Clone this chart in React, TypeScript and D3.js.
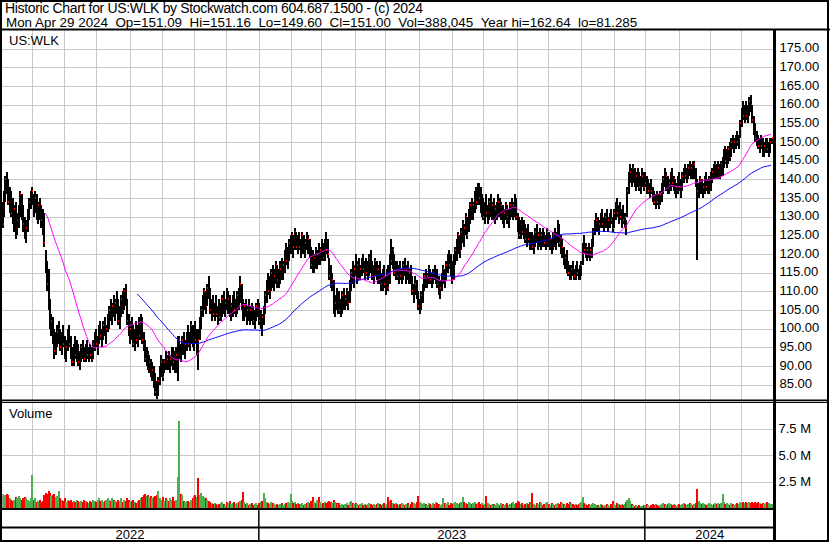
import * as d3 from "d3";

// daily bars, May 4 2022 .. Apr 29 2024 (weekdays)
const highs = [
  134, 137, 141, 142, 140, 138, 137, 135, 133, 134,
  131, 133, 137, 136, 133, 130, 129, 132, 135, 137,
  138, 136, 137, 136, 134, 135, 133, 132, 131, 121,
  118, 116, 108, 104, 103, 100, 99, 101, 102, 100,
  99, 101, 98, 97, 100, 101, 98, 95, 96, 98,
  97, 96, 94, 96, 97, 95, 96, 97, 95, 96,
  95, 97, 99, 100, 98, 101, 102, 100, 102, 103,
  101, 104, 106, 108, 107, 109, 108, 110, 108, 106,
  109, 110, 111, 112, 108, 104, 102, 103, 101, 100,
  102, 101, 103, 104, 103, 99, 97, 95, 94, 93,
  92, 91, 90, 88, 86, 87, 90, 93, 92, 92,
  94, 93, 94, 93, 95, 95, 94, 95, 98, 98,
  96, 98, 99, 97, 99, 101, 99, 102, 101, 100,
  102, 100, 100, 103, 106, 109, 111, 110, 112, 114,
  111, 108, 109, 107, 109, 106, 108, 107, 109, 110,
  108, 111, 110, 109, 107, 109, 110, 108, 110, 111,
  114, 112, 108, 107, 108, 106, 108, 106, 107, 106,
  105, 107, 108, 107, 105, 104, 106, 110, 113, 115,
  114, 116, 117, 116, 118, 117, 116, 118, 119, 118,
  121, 123, 122, 124, 125, 126, 125, 127, 126, 125,
  126, 124, 126, 125, 124, 126, 125, 124, 122, 121,
  120, 122, 121, 123, 122, 124, 123, 124, 126, 124,
  119, 117, 115, 113, 109, 111, 109, 110, 108, 110,
  111, 109, 111, 110, 113, 116, 118, 117, 120, 118,
  119, 117, 119, 120, 118, 119, 118, 120, 121, 118,
  117, 119, 118, 117, 118, 115, 116, 117, 114, 116,
  117, 120, 124, 122, 120, 118, 118, 117, 118, 116,
  118, 119, 117, 118, 116, 117, 114, 112, 114, 113,
  110, 108, 110, 112, 115, 116, 115, 117, 116, 115,
  116, 117, 116, 116, 114, 113, 115, 117, 116, 118,
  120, 121, 120, 118, 120, 122, 124, 126, 125, 127,
  129, 128, 131, 130, 132, 134, 135, 134, 137, 138,
  139, 139, 138, 136, 135, 134, 136, 133, 135, 136,
  134, 135, 133, 134, 136, 135, 134, 133, 132, 134,
  133, 132, 134, 135, 134, 136, 135, 131, 130, 129,
  130, 129, 128, 127, 128, 126, 125, 126, 125, 127,
  128, 126, 127, 126, 127, 126, 125, 127, 126, 125,
  124, 126, 127, 126, 129, 128, 125, 124, 122, 120,
  121, 118, 117, 117, 118, 116, 117, 118, 116, 117,
  118, 123, 125, 123, 122, 123, 122, 124, 127, 129,
  131, 130, 129, 131, 132, 130, 131, 132, 130, 131,
  132, 130, 132, 134, 135, 133, 134, 132, 133, 131,
  129, 138, 142, 144, 143, 144, 143, 142, 143, 142,
  141, 143, 142, 142, 141, 140, 139, 140, 138, 137,
  136, 137, 136, 137, 139, 141, 143, 142, 141, 140,
  142, 143, 141, 140, 139, 141, 142, 140, 142, 143,
  144, 143, 144, 145, 144, 145, 145, 143, 140, 139,
  141, 140, 139, 141, 142, 140, 141, 142, 143, 144,
  145, 144, 145, 144, 145, 146, 148, 149, 148, 149,
  150, 151, 152, 151, 152, 153, 152, 156, 159, 161,
  160, 161, 160, 162, 162.64, 160, 157, 155, 153, 152,
  151, 152, 151, 150, 151, 151, 150, 151, 151.16,
];

const lows = [
  127, 130, 134, 136, 133, 131, 130, 128, 126, 124,
  125, 127, 130, 129, 126, 124, 123, 126, 129, 132,
  133, 130, 131, 129, 128, 129, 127, 125, 122, 115,
  110, 105, 100, 98, 96, 92, 93, 95, 96, 94,
  93, 95, 92, 91, 94, 95, 92, 90, 90, 92,
  91, 90, 89, 91, 92, 91, 91, 92, 91, 92,
  91, 92, 94, 95, 93, 96, 97, 95, 97, 98,
  96, 99, 100, 102, 101, 103, 102, 104, 101, 100,
  103, 104, 105, 106, 101, 98, 96, 97, 95, 94,
  96, 95, 97, 97, 96, 94, 91, 90, 89, 88,
  87, 86, 84, 82, 81.3, 82, 85, 87, 86, 88,
  89, 89, 89, 88, 90, 89, 88, 88, 86, 92,
  91, 93, 93, 92, 94, 95, 94, 96, 95, 94,
  96, 93, 89, 97, 100, 103, 105, 104, 106, 108,
  104, 102, 103, 102, 103, 101, 102, 102, 103, 104,
  103, 105, 104, 103, 102, 103, 104, 103, 104, 105,
  107, 105, 102, 102, 103, 101, 102, 101, 102, 101,
  100, 102, 103, 101, 100, 98, 101, 104, 107, 109,
  108, 110, 111, 110, 112, 111, 111, 112, 113, 113,
  115, 117, 116, 118, 120, 120, 119, 121, 121, 120,
  121, 119, 120, 120, 119, 121, 120, 119, 116, 115,
  115, 116, 116, 117, 117, 118, 118, 118, 120, 119,
  113, 111, 110, 104, 103, 105, 104, 104, 103, 104,
  105, 105, 106, 105, 107, 110, 112, 111, 114, 112,
  113, 113, 114, 115, 113, 114, 113, 114, 115, 113,
  112, 114, 113, 112, 112, 110, 110, 111, 109, 111,
  110, 112, 117, 116, 114, 113, 113, 112, 113, 112,
  113, 114, 112, 113, 112, 112, 109, 107, 109, 108,
  105, 104, 105, 107, 110, 111, 111, 112, 112, 111,
  112, 113, 112, 111, 109, 108, 110, 112, 111, 113,
  115, 116, 114, 112, 113, 117, 118, 120, 119, 121,
  123, 122, 125, 124, 126, 128, 129, 129, 131, 132,
  133, 133, 131, 130, 129, 128, 130, 128, 129, 130,
  129, 129, 128, 129, 130, 130, 129, 128, 127, 129,
  128, 127, 129, 130, 129, 130, 129, 126, 124, 124,
  125, 124, 123, 122, 123, 121, 121, 121, 120, 122,
  123, 121, 122, 121, 122, 122, 121, 122, 122, 121,
  120, 121, 122, 121, 123, 122, 120, 119, 117, 116,
  115, 114, 113, 113, 114, 113, 113, 114, 113, 113,
  114, 117, 120, 119, 118, 119, 118, 119, 122, 125,
  126, 126, 125, 127, 127, 126, 127, 127, 126, 127,
  128, 126, 127, 129, 130, 128, 129, 127, 128, 127,
  125, 130, 136, 139, 138, 139, 138, 137, 138, 137,
  136, 138, 137, 138, 136, 136, 135, 136, 134, 133,
  132, 133, 132, 133, 134, 136, 138, 137, 136, 136,
  137, 138, 137, 136, 135, 136, 137, 135, 137, 139,
  140, 139, 140, 141, 140, 140, 140, 138, 118.5, 135,
  136, 136, 135, 136, 137, 136, 136, 137, 139, 140,
  140, 140, 140, 140, 141, 141, 143, 144, 143, 144,
  145, 146, 148, 147, 148, 149, 148, 151, 154, 156,
  155, 156, 155, 157, 158, 155, 152, 150, 149, 148,
  147, 148, 146, 146, 147, 147, 146, 147, 149.6,
];

const closes = [
  128, 135, 140, 137, 134, 136, 131, 129, 132, 127,
  129, 131, 136, 130, 128, 125, 127, 131, 134, 136,
  137, 132, 135, 130, 133, 131, 129, 127, 123, 116,
  112, 107, 101, 102, 97, 94, 97, 99, 100, 95,
  98, 96, 93, 95, 99, 96, 93, 91, 94, 93,
  95, 91, 92, 95, 93, 92, 95, 93, 94, 93,
  92, 96, 98, 96, 97, 100, 98, 99, 101, 99,
  100, 103, 105, 103, 106, 104, 107, 105, 102, 104,
  108, 105, 110, 107, 102, 99, 100, 98, 96, 99,
  97, 100, 98, 102, 97, 95, 92, 93, 90, 91,
  88, 89, 85, 83, 82, 86, 88, 91, 87, 91,
  90, 92, 90, 92, 94, 91, 89, 93, 96, 97,
  95, 97, 94, 96, 98, 96, 98, 101, 97, 99,
  97, 99, 97, 102, 105, 107, 110, 106, 111, 109,
  105, 107, 104, 106, 104, 105, 103, 106, 108, 105,
  107, 106, 108, 104, 106, 108, 105, 107, 109, 106,
  112, 106, 104, 106, 104, 105, 103, 105, 104, 102,
  104, 106, 104, 102, 104, 103, 105, 109, 112, 110,
  113, 115, 112, 114, 117, 113, 115, 116, 114, 117,
  120, 118, 121, 123, 124, 125, 122, 126, 122, 124,
  122, 123, 125, 121, 123, 122, 124, 120, 117, 116,
  119, 117, 120, 118, 121, 122, 119, 123, 121, 120,
  114, 112, 113, 106, 107, 106, 108, 105, 107, 109,
  106, 108, 110, 107, 112, 115, 113, 116, 115, 117,
  114, 116, 118, 116, 117, 115, 117, 119, 116, 114,
  116, 118, 115, 116, 113, 112, 115, 112, 113, 115,
  111, 119, 118, 121, 115, 117, 114, 116, 114, 115,
  117, 115, 116, 114, 115, 113, 110, 111, 112, 109,
  106, 107, 109, 111, 114, 113, 114, 116, 113, 114,
  115, 114, 115, 112, 110, 111, 114, 116, 113, 117,
  119, 117, 115, 113, 119, 121, 123, 125, 121, 126,
  128, 127, 130, 125, 131, 133, 130, 133, 136, 134,
  137, 135, 132, 134, 130, 133, 131, 132, 134, 131,
  133, 130, 132, 133, 134, 131, 133, 129, 131, 133,
  130, 131, 133, 131, 133, 134, 130, 127, 125, 128,
  126, 127, 124, 126, 124, 122, 124, 122, 124, 126,
  124, 125, 123, 125, 124, 123, 124, 126, 123, 124,
  122, 125, 123, 125, 127, 123, 121, 122, 118, 119,
  116, 115, 114, 116, 115, 114, 116, 115, 114, 116,
  117, 122, 121, 122, 121, 120, 121, 123, 126, 128,
  129, 127, 128, 130, 128, 129, 130, 128, 129, 130,
  129, 127, 131, 133, 131, 132, 130, 131, 129, 130,
  127, 137, 141, 142, 140, 143, 139, 141, 140, 138,
  140, 141, 138, 139, 137, 137, 138, 137, 135, 134,
  135, 134, 133, 136, 138, 140, 139, 141, 137, 139,
  141, 139, 140, 137, 138, 140, 138, 139, 141, 142,
  141, 142, 143, 142, 143, 141, 144, 139, 137, 138,
  140, 137, 138, 140, 138, 139, 140, 141, 142, 141,
  144, 142, 143, 141, 144, 145, 147, 145, 147, 148,
  146, 150, 149, 150, 151, 150, 151, 155, 158, 157,
  159, 157, 159, 161, 160, 156, 153, 151, 150, 149,
  150, 149, 147, 149, 150, 148, 149, 150, 151,
];

// volume in units of 100,000 shares
const volumes = [
  13, 10, 12, 13, 12, 9, 8, 7, 8, 10,
  9, 11, 9, 8, 9, 10, 9, 8, 7, 9,
  31, 8, 9, 6, 7, 8, 6, 7, 12, 14,
  13, 16, 14, 11, 12, 13, 10, 11, 16, 9,
  8, 7, 9, 6, 8, 7, 8, 6, 7, 6,
  8, 7, 6, 7, 6, 8, 7, 6, 5, 7,
  6, 8, 7, 6, 8, 9, 7, 8, 6, 7,
  8, 9, 8, 7, 9, 8, 7, 6, 8, 7,
  9, 6, 8, 7, 9, 8, 6, 7, 8, 6,
  5, 7, 8, 9, 10, 12, 13, 11, 12, 10,
  11, 9, 10, 11, 12, 16, 9, 8, 10, 7,
  9, 8, 7, 9, 8, 10, 7, 8, 29, 82,
  13, 12, 7, 6, 7, 7, 6, 8, 9, 11,
  12, 10, 28, 12, 14, 11, 10, 9, 8, 7,
  6, 5, 4, 5, 4, 3, 4, 5, 6, 4,
  3, 6, 5, 7, 4, 5, 6, 4, 5, 6,
  7, 8, 15, 6, 4, 5, 3, 4, 5, 3,
  4, 5, 3, 5, 6, 7, 14, 9, 6, 5,
  4, 6, 5, 4, 3, 4, 3, 4, 5, 3,
  4, 5, 6, 5, 13, 7, 5, 6, 4, 5,
  4, 4, 5, 3, 4, 5, 6, 5, 7, 10,
  6, 5, 8, 10, 6, 4, 5, 6, 5, 6,
  7, 6, 5, 8, 6, 5, 4, 5, 3, 4,
  3, 4, 5, 3, 6, 7, 5, 4, 5, 4,
  3, 4, 5, 3, 4, 3, 4, 5, 4, 3,
  4, 3, 4, 5, 4, 3, 4, 5, 3, 4,
  10, 7, 8, 5, 4, 5, 4, 3, 4, 5,
  4, 3, 4, 5, 3, 4, 6, 5, 4, 6,
  11, 6, 5, 4, 5, 4, 3, 5, 4, 3,
  5, 4, 6, 5, 4, 3, 4, 9, 5, 4,
  6, 3, 5, 4, 5, 6, 5, 4, 5, 6,
  10, 6, 5, 4, 6, 5, 4, 5, 6, 4,
  5, 6, 4, 5, 3, 4, 11, 5, 4, 3,
  4, 4, 3, 5, 4, 3, 5, 4, 3, 4,
  5, 3, 4, 5, 6, 4, 5, 7, 6, 4,
  5, 3, 4, 5, 4, 6, 5, 14, 4, 3,
  5, 4, 6, 5, 3, 4, 5, 6, 4, 3,
  5, 4, 3, 4, 5, 4, 6, 5, 4, 3,
  5, 4, 6, 5, 4, 3, 4, 3, 4, 5,
  6, 10, 5, 4, 3, 4, 3, 4, 5, 4,
  3, 3, 2, 4, 3, 2, 3, 4, 3, 2,
  4, 7, 4, 3, 5, 4, 3, 4, 3, 4,
  6, 8, 9, 7, 4, 3, 2, 3, 2, 3,
  2, 2, 3, 3, 4, 3, 2, 3, 4, 3,
  4, 3, 2, 3, 4, 5, 4, 3, 4, 5,
  4, 3, 4, 3, 2, 3, 4, 3, 4, 5,
  4, 3, 4, 5, 4, 3, 4, 5, 18, 7,
  5, 4, 5, 4, 3, 4, 5, 4, 3, 4,
  5, 4, 5, 4, 5, 13, 6, 4, 5, 4,
  3, 5, 4, 3, 4, 5, 4, 6, 5, 6,
  5, 6, 5, 6, 5, 6, 5, 6, 5, 6,
  5, 4, 5, 4, 5, 6, 5, 4, 4,
];

const priceTicks = d3.range(85, 176, 5);
const volumeTicks = [25, 50, 75];
const volumeLabels = ["2.5 M", "5.0 M", "7.5 M"];

const title = "Historic Chart for US:WLK by Stockwatch.com 604.687.1500 - (c) 2024";
const quoteParts = [
  "Mon Apr 29 2024",
  "Op=151.09",
  "Hi=151.16",
  "Lo=149.60",
  "Cl=151.00",
  "Vol=388,045",
  "Year hi=162.64",
  "lo=81.285",
];
const quote = quoteParts.join("\u00a0\u00a0");

const FONT = "'Liberation Sans', Arial, sans-serif";

const App = () => {
  const W = 830;
  const H = 543;
  const axisX = 774.5;

  const days = d3.timeDay
    .range(new Date(2022, 4, 4), new Date(2024, 3, 30))
    .filter((d) => d.getDay() !== 0 && d.getDay() !== 6);
  const n = Math.min(days.length, closes.length);

  const x = d3.scaleLinear().domain([0, n - 1]).range([2, 771]);
  const y = d3.scaleLinear().domain([80.9, 180]).range([400, 30]);
  const yv = d3.scaleLinear().domain([0, 100]).range([508, 402]);
  const px = (i: number) => Math.round(x(i) - 0.5);

  const monthStarts: number[] = [];
  const yearStarts: number[] = [];
  for (let i = 1; i < n; i++) {
    if (days[i].getMonth() !== days[i - 1].getMonth()) monthStarts.push(i);
    if (days[i].getFullYear() !== days[i - 1].getFullYear()) yearStarts.push(i);
  }
  const yearEdges = [1, ...yearStarts.map((i) => x(i)), axisX];
  const yearNames = [days[0].getFullYear(), ...yearStarts.map((i) => days[i].getFullYear())];

  const movingAvg = (p: number) =>
    closes.slice(0, n).map((_, i) => (i < p - 1 ? null : d3.mean(closes.slice(i - p + 1, i + 1))!));
  const line = d3
    .line<number | null>()
    .defined((d) => d !== null)
    .x((_, i) => x(i))
    .y((d) => y(d as number));
  const maFast = movingAvg(30);
  const maSlow = movingAvg(92);

  const volColor = (i: number) => {
    if (i === 0 || closes[i] === closes[i - 1]) return "#a0a0a0";
    return closes[i] > closes[i - 1] ? "#4cb050" : "#ff0000";
  };

  const idx = d3.range(n);

  return (
    <svg
      width={W}
      height={H}
      style={{ position: "absolute", left: 0, top: 0, background: "#fff" }}
      fontFamily={FONT}
    >
      {/* header */}
      <text x={5} y={13} fontSize={14} fill="#000" textLength={418} lengthAdjust="spacing">
        {title}
      </text>
      <text x={6} y={26.5} fontSize={13.4} fill="#000">
        {quote}
      </text>

      {/* grid */}
      <g stroke="#c8c8c8" strokeWidth={1} shapeRendering="crispEdges">
        {priceTicks.map((t) => (
          <line key={`p${t}`} x1={2} x2={axisX} y1={Math.round(y(t)) + 0.5} y2={Math.round(y(t)) + 0.5} />
        ))}
        {monthStarts.map((i) => (
          <line key={`m${i}`} x1={Math.round(x(i)) + 0.5} x2={Math.round(x(i)) + 0.5} y1={30} y2={400} />
        ))}
        {volumeTicks.map((t) => (
          <line key={`v${t}`} x1={2} x2={axisX} y1={Math.round(yv(t)) + 0.5} y2={Math.round(yv(t)) + 0.5} />
        ))}
        {monthStarts.map((i) => (
          <line key={`mv${i}`} x1={Math.round(x(i)) + 0.5} x2={Math.round(x(i)) + 0.5} y1={402} y2={508} />
        ))}
      </g>

      {/* price bars with close marks, drawn day by day */}
      <g shapeRendering="crispEdges">
        {idx.map((i) => {
          const top = Math.round(y(highs[i]));
          const bot = Math.round(y(lows[i]));
          return (
            <g key={i}>
              <rect x={px(i)} width={2} y={top} height={Math.max(1, bot - top)} fill="#000" />
              <rect x={px(i) + 1} width={1} y={Math.round(y(closes[i])) - 1} height={2} fill="#ff0000" />
            </g>
          );
        })}
      </g>

      {/* moving averages */}
      <path d={line(maSlow) ?? ""} fill="none" stroke="#0000ff" strokeWidth={1} />
      <path d={line(maFast) ?? ""} fill="none" stroke="#ff00ff" strokeWidth={1} />

      {/* volume */}
      <g shapeRendering="crispEdges">
        {idx.map((i) => {
          const top = Math.round(yv(volumes[i]));
          return <rect key={i} x={px(i)} width={2} y={top} height={508 - top} fill={volColor(i)} />;
        })}
      </g>

      {/* labels */}
      <text x={9} y={45} fontSize={13} fill="#000">US:WLK</text>
      <text x={9} y={418} fontSize={13} fill="#000">Volume</text>
      {priceTicks.map((t) => (
        <text key={t} x={779.5} y={y(t) + 3.5} fontSize={13} fill="#000">
          {t.toFixed(2)}
        </text>
      ))}
      {volumeTicks.map((t, k) => (
        <text key={t} x={778.5} y={yv(t) + 4.5} fontSize={13} fill="#000">
          {volumeLabels[k]}
        </text>
      ))}
      {yearNames.map((yr, k) => (
        <text key={yr} x={(yearEdges[k] + yearEdges[k + 1]) / 2} y={538.5} fontSize={13} textAnchor="middle" fill="#000">
          {yr}
        </text>
      ))}

      {/* frames */}
      <g stroke="#000" fill="none">
        <rect x={1} y={1} width={827} height={540} strokeWidth={2} />
        <line x1={0} x2={W} y1={29.5} y2={29.5} strokeWidth={2} />
        <line x1={0} x2={829} y1={400.2} y2={400.2} strokeWidth={1.4} />
        <line x1={0} x2={829} y1={402.4} y2={402.4} strokeWidth={1.4} />
        <line x1={0} x2={axisX} y1={509} y2={509} strokeWidth={2} />
        <line x1={0} x2={axisX} y1={527.5} y2={527.5} strokeWidth={2} />
        {yearStarts.map((i) => (
          <line key={i} x1={x(i)} x2={x(i)} y1={509} y2={541} strokeWidth={1.5} />
        ))}
        <line x1={axisX} x2={axisX} y1={30} y2={541} strokeWidth={3} />
      </g>
    </svg>
  );
};

export default App;
